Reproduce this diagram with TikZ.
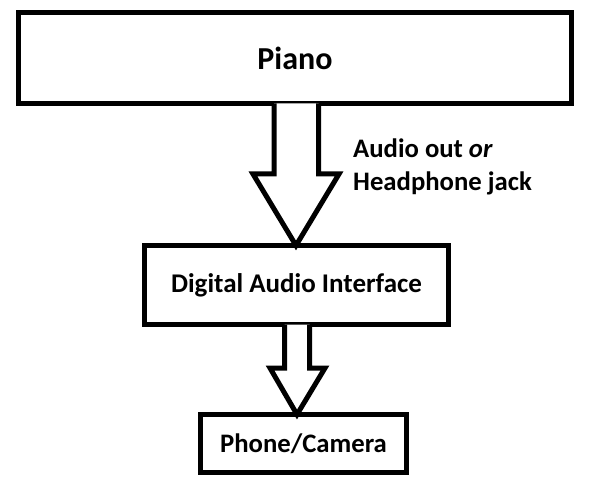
\documentclass[tikz,border=0pt]{standalone}
\usepackage{fontspec}
\setmainfont{Carlito}
\usetikzlibrary{calc}
\begin{document}
\begin{tikzpicture}[x=1pt,y=-1pt,
  box/.style={draw=black, line width=5pt, fill=white, rectangle, outer sep=0pt, inner sep=0pt, font=\bfseries},
  fatarrow/.style={draw=black, line width=5pt, line join=miter, fill=white}]
\useasboundingbox (0,0) rectangle (591,489);
\node[box, minimum width=553pt, minimum height=91pt, font=\fontsize{32}{38}\selectfont\bfseries] (piano) at (295,58) {Piano};
\node[box, minimum width=304pt, minimum height=79pt, font=\fontsize{27}{32}\selectfont\bfseries] (dai) at (296.5,285) {Digital Audio Interface};
\node[box, minimum width=206pt, minimum height=58pt, font=\fontsize{26.7}{32}\selectfont\bfseries] (phone) at (303.5,443.5) {Phone/Camera};
% big arrow
\coordinate (t1) at (296,0);
\draw[fatarrow] (piano.south -| 274,0) -- (274,174) -- (253,174) -- (dai.north -| t1) -- (339,174) -- (318.5,174) -- (piano.south -| 318.5,0);
% small arrow
\coordinate (t2) at (297,0);
\draw[fatarrow] (dai.south -| 284.5,0) -- (284.5,368) -- (270,368) -- (phone.north -| t2) -- (325,368) -- (309.5,368) -- (dai.south -| 309.5,0);
\node[anchor=base west, inner sep=0pt, align=left, font=\fontsize{26.7}{33}\selectfont\bfseries] (lbl) at (353,190) {Audio out \textit{or}\\Headphone jack};
\end{tikzpicture}
\end{document}
